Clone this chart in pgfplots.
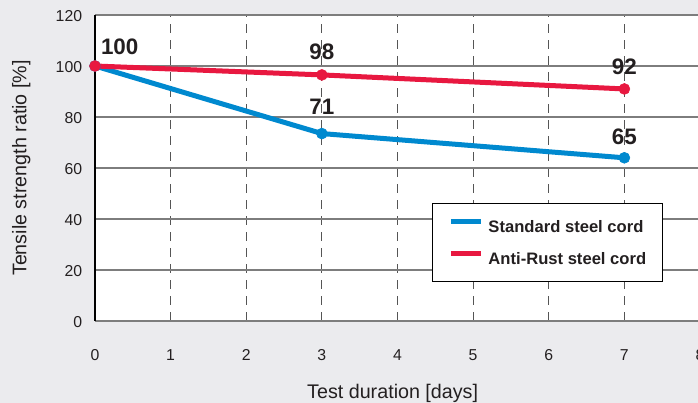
\documentclass[border=0pt]{standalone}
\usepackage{fontspec}
\setmainfont{Liberation Sans}
\usepackage{pgfplots}
\pgfplotsset{compat=1.18}
\definecolor{bg}{RGB}{235,235,238}
\definecolor{sblue}{RGB}{0,137,207}
\definecolor{arred}{RGB}{232,24,64}
\definecolor{txt}{RGB}{35,31,32}
\definecolor{gridh}{RGB}{125,125,125}
\definecolor{gridv}{RGB}{85,85,85}
\begin{document}
\begin{tikzpicture}[x=1pt,y=1pt]
\fill[bg] (-95,-82) rectangle (603,321);
\begin{axis}[
  at={(0,0)}, anchor=south west,
  scale only axis, width=605pt, height=306pt,
  xmin=0, xmax=8, ymin=0, ymax=120,
  xtick={0,...,8}, ytick={0,20,...,120},
  major tick length=0pt,
  axis line style={draw=none},
  axis background/.style={fill=white},
  clip=false,
  xmajorgrids, ymajorgrids,
  x grid style={gridv, line width=1.2pt, dash pattern=on 9pt off 7pt},
  y grid style={gridh, line width=1.2pt},
  /pgf/number format/assume math mode=true,
  tick label style={font=\fontsize{15.8}{18}\selectfont, text=txt},
  xticklabel style={inner sep=0pt, yshift=-28pt, anchor=north},
  yticklabel style={inner sep=0pt, xshift=-12.7pt, yshift=-1.5pt, anchor=east},
  xlabel={Test duration [days]},
  ylabel={Tensile strength ratio [\%]},
  label style={font=\fontsize{19.7}{22}\selectfont, text=txt},
  xlabel style={at={(axis description cs:0.492,-0.2549)}, anchor=base},
  ylabel style={at={(axis description cs:-0.1135,0.5)}, anchor=base},
  legend style={at={(axis cs:4.454,46.2)}, anchor=north west, draw=black,
    line width=1.3pt, fill=white, font=\bfseries\fontsize{16.6}{20}\selectfont,
    text=txt, inner xsep=16pt, inner ysep=15pt, row sep=17pt, column sep=5pt,
    nodes={inner sep=0pt}},
  legend cell align=left,
  legend image code/.code={\draw[line width=5pt] (0pt,6pt) -- (30pt,6pt);},
]
\draw[black, line width=1.5pt] (axis cs:0,0) -- (axis cs:0,120);
\addplot[sblue, line width=5pt, mark=*, mark size=5.5pt, mark options={solid, line width=0.5pt}]
  coordinates {(0,100) (3,73.5) (7,64)};
\addlegendentry{Standard steel cord}
\addplot[arred, line width=5pt, mark=*, mark size=5.5pt, mark options={solid, line width=0.5pt}]
  coordinates {(0,100) (3,96.5) (7,91)};
\addlegendentry{Anti-Rust steel cord}
\node[font=\bfseries\fontsize{22.4}{26}\selectfont, text=txt] at (axis cs:0.327,107.4) {100};
\node[font=\bfseries\fontsize{22.4}{26}\selectfont, text=txt] at (axis cs:3,105.6) {98};
\node[font=\bfseries\fontsize{22.4}{26}\selectfont, text=txt] at (axis cs:3,84.0) {71};
\node[font=\bfseries\fontsize{22.4}{26}\selectfont, text=txt] at (axis cs:7,99.5) {92};
\node[font=\bfseries\fontsize{22.4}{26}\selectfont, text=txt] at (axis cs:7,72.3) {65};
\end{axis}
\pgfresetboundingbox
\path[use as bounding box] (-95,-82) rectangle (603,321);
\end{tikzpicture}
\end{document}
